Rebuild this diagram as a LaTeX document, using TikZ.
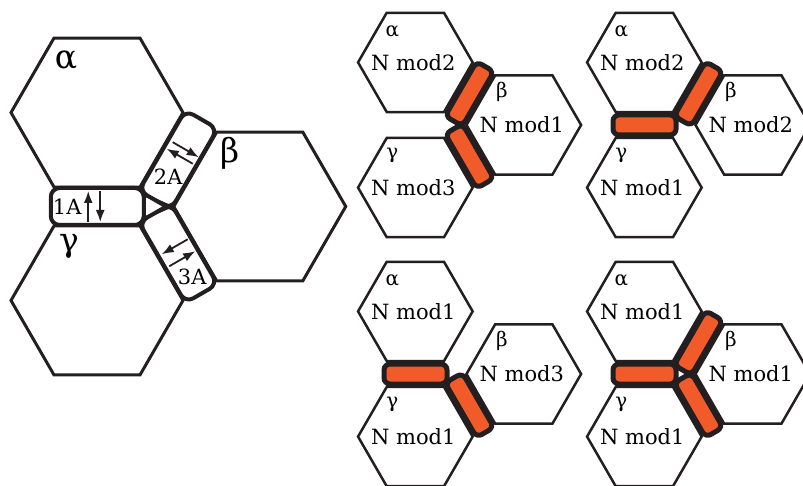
\documentclass[tikz,border=0pt]{standalone}
\usepackage{fontspec}
\setmainfont{DejaVu Serif}
\usetikzlibrary{arrows.meta,calc,shapes.geometric}
\definecolor{bondorange}{RGB}{241,90,41}
\definecolor{inkblack}{RGB}{35,31,32}

\begin{document}
\begin{tikzpicture}[
    x=1pt, y=-1pt,
    hexbig/.style={draw=inkblack, regular polygon, regular polygon sides=6,
      minimum size=172pt, inner sep=0pt, line width=3pt},
    hexsmall/.style={hexbig, minimum size=114.6pt, line width=2.5pt},
    bigbar/.style={draw=inkblack, fill=white, rounded corners=9pt, inner sep=0pt,
      minimum width=93pt, minimum height=37pt, line width=4pt},
    smallbar/.style={draw=inkblack, fill=bondorange, rounded corners=6pt, inner sep=0pt,
      minimum width=63pt, minimum height=20pt, line width=5pt},
    flux/.style={-{Latex[length=12pt,width=9pt]}, line width=1.8pt, draw=inkblack},
    biggreek/.style={font=\fontsize{33}{40}\selectfont},
    smallgreek/.style={font=\fontsize{20}{24}\selectfont},
    modlabel/.style={font=\fontsize{21}{25}\selectfont},
    barlabel/.style={font=\fontsize{21}{25}\selectfont}
  ]
  \useasboundingbox (0,0) rectangle (803,486);
  \clip (0,0) rectangle (803,486);

  % large junction with the three bond sites
  \coordinate (P) at (151.25,206.5);
  \node[hexbig] (aBig) at ($(P)+(240:108.5)$) {};
  \node[hexbig] (bBig) at ($(P)+(0:108.5)$) {};
  \node[hexbig] (gBig) at ($(P)+(120:108.5)$) {};
  \node[biggreek] (aBigL) at ($(aBig)+(-31,-52)$) {α};
  \node[biggreek] (bBigL) at ($(bBig)+(-30,-53)$) {β};
  \node[biggreek] (gBigL) at ($(gBig)+(-28,-54)$) {γ};

  \node[bigbar] (bar1A) at ($(P)+(180:54)$) {};
  \node[bigbar, rotate=60] (bar2A) at ($(P)+(300:54)$) {};
  \node[bigbar, rotate=-60] (bar3A) at ($(P)+(60:54)$) {};
  \coordinate (J) at ($(P)+(19,0)$);
  \draw[line width=3pt, inkblack] ($(bar1A.east)+(-2,-12)$) -- (J)
    -- ($(bar1A.east)+(-2,12)$);

  \node[barlabel] (lbl1A) at ($(bar1A)+(-30,0)$) {1A};
  \node[barlabel] (lbl2A) at ($(bar2A)+(-10,17)$) {2A};
  \node[barlabel] (lbl3A) at ($(bar3A)+(14,24)$) {3A};
  \draw[flux] ($(bar1A)+(-9,15.5)$) -- ++(0,-31);
  \draw[flux] ($(bar1A)+(3,-15.5)$) -- ++(0,31);
  \draw[flux] ($(bar2A)+(-5.5,-17.5)$) -- ++(30:30);
  \draw[flux] ($(bar2A)+(14.5,4)$) -- ++(210:30);
  \draw[flux] ($(bar3A)+(9.5,-14)$) -- ++(150:30);
  \draw[flux] ($(bar3A)+(-9,13)$) -- ++(-30:30);

  % case 1: 2A and 3A
  \coordinate (P1) at (451.5,125);
  \node[hexsmall] (a1) at ($(P1)+(240:72.3)$) {};
  \node[hexsmall] (b1) at ($(P1)+(0:72.3)$) {};
  \node[hexsmall] (g1) at ($(P1)+(120:72.3)$) {};
  \node[smallbar, rotate=60] (bar2A1) at ($(P1)+(300:36)$) {};
  \node[smallbar, rotate=-60] (bar3A1) at ($(P1)+(60:36)$) {};
  \node[smallgreek] (a1g) at ($(a1)+(-23,-31)$) {α};
  \node[modlabel] (a1m) at ($(a1)+(-2,0)$) {N mod2};
  \node[smallgreek] (b1g) at ($(b1)+(-22,-33)$) {β};
  \node[modlabel] (b1m) at ($(b1)+(-2,0)$) {N mod1};
  \node[smallgreek] (g1g) at ($(g1)+(-23,-32)$) {γ};
  \node[modlabel] (g1m) at ($(g1)+(-2,0)$) {N mod3};

  % case 2: 1A and 2A
  \coordinate (P2) at (680.5,125);
  \node[hexsmall] (a2) at ($(P2)+(240:72.3)$) {};
  \node[hexsmall] (b2) at ($(P2)+(0:72.3)$) {};
  \node[hexsmall] (g2) at ($(P2)+(120:72.3)$) {};
  \node[smallbar] (bar1A2) at ($(P2)+(180:36)$) {};
  \node[smallbar, rotate=60] (bar2A2) at ($(P2)+(300:36)$) {};
  \node[smallgreek] (a2g) at ($(a2)+(-23,-31)$) {α};
  \node[modlabel] (a2m) at ($(a2)+(-2,0)$) {N mod2};
  \node[smallgreek] (b2g) at ($(b2)+(-22,-33)$) {β};
  \node[modlabel] (b2m) at ($(b2)+(-2,0)$) {N mod2};
  \node[smallgreek] (g2g) at ($(g2)+(-23,-32)$) {γ};
  \node[modlabel] (g2m) at ($(g2)+(-2,0)$) {N mod1};

  % case 3: 1A and 3A
  \coordinate (P3) at (451.5,374);
  \node[hexsmall] (a3) at ($(P3)+(240:72.3)$) {};
  \node[hexsmall] (b3) at ($(P3)+(0:72.3)$) {};
  \node[hexsmall] (g3) at ($(P3)+(120:72.3)$) {};
  \node[smallbar] (bar1A3) at ($(P3)+(180:36)$) {};
  \node[smallbar, rotate=-60] (bar3A3) at ($(P3)+(60:36)$) {};
  \node[smallgreek] (a3g) at ($(a3)+(-23,-31)$) {α};
  \node[modlabel] (a3m) at ($(a3)+(-2,0)$) {N mod1};
  \node[smallgreek] (b3g) at ($(b3)+(-22,-33)$) {β};
  \node[modlabel] (b3m) at ($(b3)+(-2,0)$) {N mod3};
  \node[smallgreek] (g3g) at ($(g3)+(-23,-32)$) {γ};
  \node[modlabel] (g3m) at ($(g3)+(-2,0)$) {N mod1};

  % case 4: all three
  \coordinate (P4) at (680.5,374);
  \node[hexsmall] (a4) at ($(P4)+(240:72.3)$) {};
  \node[hexsmall] (b4) at ($(P4)+(0:72.3)$) {};
  \node[hexsmall] (g4) at ($(P4)+(120:72.3)$) {};
  \node[smallbar] (bar1A4) at ($(P4)+(180:36)$) {};
  \node[smallbar, rotate=60] (bar2A4) at ($(P4)+(300:36)$) {};
  \node[smallbar, rotate=-60] (bar3A4) at ($(P4)+(60:36)$) {};
  \coordinate (J4) at ($(P4)+(11,0)$);
  \draw[line width=0.8pt, inkblack] ($(bar1A4.east)+(-2,-7)$) -- (J4)
    -- ($(bar1A4.east)+(-2,7)$);
  \node[smallgreek] (a4g) at ($(a4)+(-23,-31)$) {α};
  \node[modlabel] (a4m) at ($(a4)+(-2,0)$) {N mod1};
  \node[smallgreek] (b4g) at ($(b4)+(-22,-33)$) {β};
  \node[modlabel] (b4m) at ($(b4)+(-2,0)$) {N mod1};
  \node[smallgreek] (g4g) at ($(g4)+(-23,-32)$) {γ};
  \node[modlabel] (g4m) at ($(g4)+(-2,0)$) {N mod1};
\end{tikzpicture}
\end{document}
